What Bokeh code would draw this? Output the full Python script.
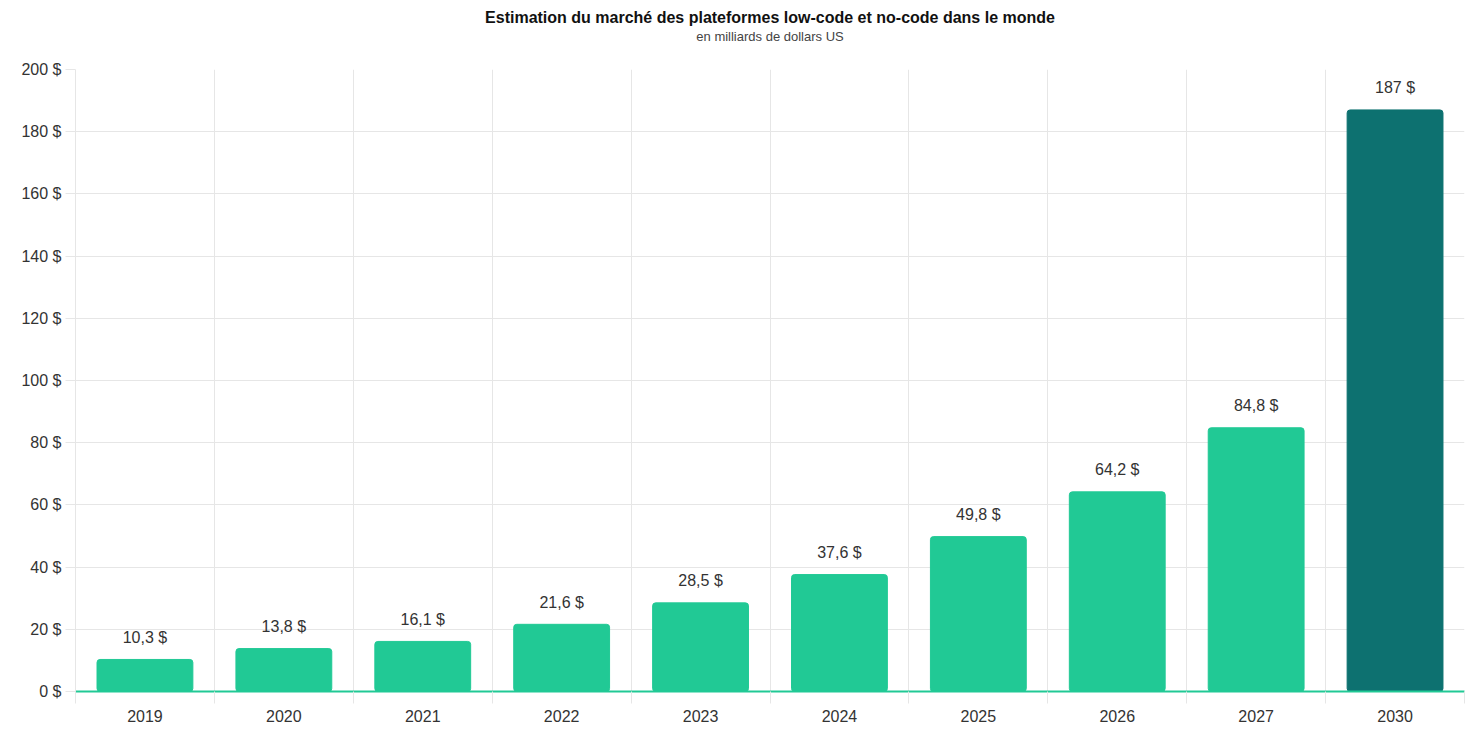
from bokeh.plotting import figure
from bokeh.models import Range1d, FixedTicker, ColumnDataSource, LabelSet, Title
from bokeh.core.properties import value
from bokeh.embed import file_html
from bokeh.resources import INLINE

years = ["2019", "2020", "2021", "2022", "2023", "2024", "2025", "2026", "2027", "2030"]
values = [10.3, 13.8, 16.1, 21.6, 28.5, 37.6, 49.8, 64.2, 84.8, 187]
value_labels = ["10,3 $", "13,8 $", "16,1 $", "21,6 $", "28,5 $", "37,6 $", "49,8 $", "64,2 $", "84,8 $", "187 $"]
y_ticks = [0, 20, 40, 60, 80, 100, 120, 140, 160, 180, 200]
title_text = "Estimation du marché des plateformes low-code et no-code dans le monde"
subtitle_text = "en milliards de dollars US"

GREEN = "#21c995"
DARK = "#0d7170"
GRID = "#e6e6e6"
FONT = "Liberation Sans"

n = len(years)
xs = [i + 0.5 for i in range(n)]
colors = [GREEN] * (n - 1) + [DARK]
src = ColumnDataSource(dict(x=xs, top=values, color=colors, label=value_labels))

p = figure(width=1471, height=734, output_backend="svg", toolbar_location=None,
           x_range=Range1d(0, n), y_range=Range1d(0, 200),
           min_border_left=75, min_border_right=7, min_border_top=69, min_border_bottom=43)
p.outline_line_color = None
p.background_fill_color = "white"
p.border_fill_color = "white"

p.vbar(x="x", top="top", width=0.69, bottom=0, color="color", source=src, border_radius=3)

p.add_layout(LabelSet(x="x", y="top", text="label", source=src, text_align="center",
                      text_baseline="middle", y_offset=22, text_font=value(FONT),
                      text_font_size="16px", text_color="#333333"))

# x axis
p.xaxis.ticker = FixedTicker(ticks=xs, minor_ticks=list(range(n + 1)))
p.xaxis.major_label_overrides = {x: y for x, y in zip(xs, years)}
p.xaxis.major_tick_line_color = None
p.xaxis.minor_tick_in = 0
p.xaxis.minor_tick_out = 12
p.xaxis.minor_tick_line_color = GRID
p.xaxis.axis_line_color = GREEN
p.xaxis.axis_line_width = 2
p.xaxis.major_label_text_font = FONT
p.xaxis.major_label_text_font_size = "16px"
p.xaxis.major_label_text_color = "#333333"
p.xaxis.major_label_standoff = 6

# y axis
p.yaxis.ticker = FixedTicker(ticks=y_ticks)
p.yaxis.major_label_overrides = {t: f"{t} $" for t in y_ticks}
p.yaxis.minor_tick_line_color = None
p.yaxis.major_tick_in = 0
p.yaxis.major_tick_out = 10
p.yaxis.major_tick_line_color = GRID
p.yaxis.axis_line_color = GRID
p.yaxis.major_label_text_font = FONT
p.yaxis.major_label_text_font_size = "16px"
p.yaxis.major_label_text_color = "#333333"
p.yaxis.major_label_standoff = 4

p.xgrid.ticker = FixedTicker(ticks=list(range(n + 1)))
p.xgrid.grid_line_color = GRID
p.ygrid.grid_line_color = GRID

p.add_layout(Title(text=subtitle_text, align="center", text_font=FONT, text_font_size="13px",
                   text_font_style="normal", text_color="#444444", standoff=52), "above")
p.add_layout(Title(text=title_text, align="center", text_font=FONT, text_font_size="16px",
                   text_font_style="bold", text_color="#111111", standoff=-50), "above")

open("out.html", "w").write(file_html(p, INLINE))
